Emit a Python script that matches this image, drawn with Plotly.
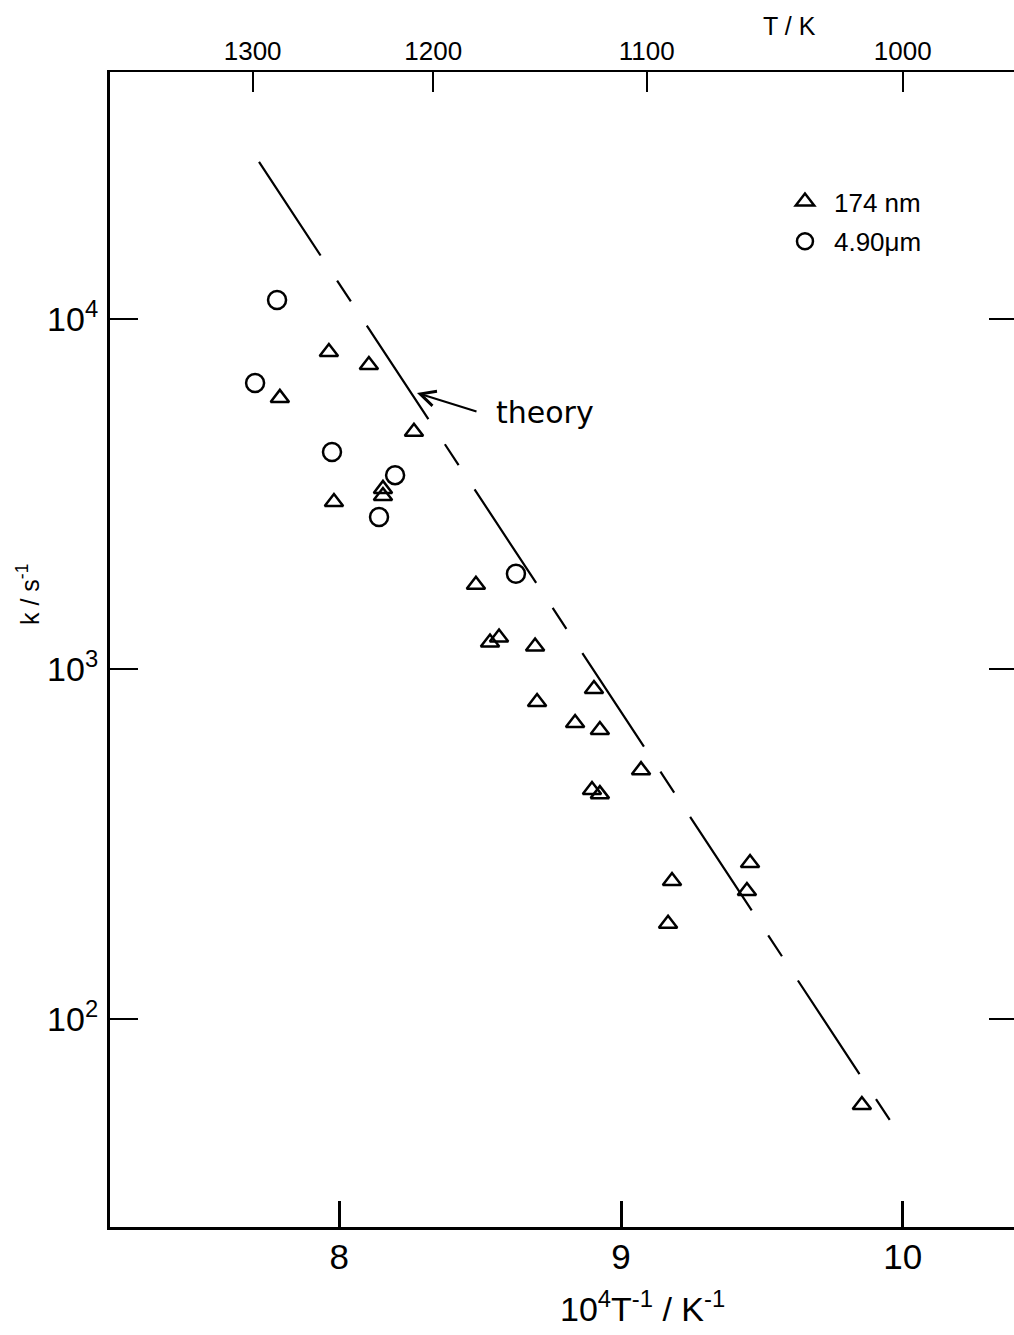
import plotly.graph_objects as go

# Rate constant k (s^-1) against reciprocal temperature 10^4/T (K^-1)
inv_t_174nm = [7.963, 8.105, 7.789, 8.265, 7.981, 8.155, 8.155, 8.485, 8.535,
               8.567, 8.695, 8.904, 8.702, 8.837, 8.925, 9.071, 8.897, 8.925,
               9.458, 9.181, 9.447, 9.167, 9.855]
k_174nm = [8050, 7390, 5950, 4760, 3000, 3270, 3120, 1740, 1190,
           1230, 1160, 877, 805, 701, 669, 514, 451, 439,
           279, 248, 232, 187, 56.8]

inv_t_490um = [7.779, 7.701, 7.974, 8.198, 8.141, 8.627]
k_490um = [11330, 6560, 4170, 3580, 2720, 1870]

# Theoretical Arrhenius line (end points)
inv_t_theory = [7.715, 9.9585]
k_theory = [28100, 50.8]

# Axis ticks
x_ticks = [8, 9, 10]
temps_top = [1300, 1200, 1100, 1000]
k_ticks = [1e2, 1e3, 1e4]
k_tick_text = ["10<sup>2</sup>", "10<sup>3</sup>", "10<sup>4</sup>"]

X_RANGE = [7.186, 10.395]
Y_RANGE = [1.4057, 4.7057]  # log10(k)

SANS = "Liberation Sans, Arial, sans-serif"

fig = go.Figure()

fig.add_trace(go.Scatter(
    x=inv_t_theory, y=k_theory, mode="lines", showlegend=False,
    line=dict(color="black", width=2.2, dash="112px,30px,25px,29px"),
))
fig.add_trace(go.Scatter(
    x=inv_t_174nm, y=k_174nm, mode="markers", name="174 nm",
    legendgroup="a",
    marker=dict(symbol="triangle-up-open", size=16, color="black",
                line=dict(color="black", width=2.5)),
))
fig.add_trace(go.Scatter(
    x=inv_t_490um, y=k_490um, mode="markers", name="4.90μm",
    legendgroup="b",
    marker=dict(symbol="circle-open", size=18, color="black",
                line=dict(color="black", width=2.5)),
))

# invisible carriers so the temperature axis (top) and the mirrored
# decade ticks (right) are rendered
fig.add_trace(go.Scatter(
    x=inv_t_theory, y=k_theory, xaxis="x2", yaxis="y", mode="lines",
    opacity=0, hoverinfo="skip", showlegend=False,
))
fig.add_trace(go.Scatter(
    x=inv_t_theory, y=k_theory, xaxis="x", yaxis="y2", mode="lines",
    opacity=0, hoverinfo="skip", showlegend=False,
))

fig.update_layout(
    width=1014, height=1335,
    margin=dict(l=110, r=0, t=72, b=108),
    paper_bgcolor="white", plot_bgcolor="white",
    font=dict(family=SANS, color="black"),
    showlegend=True,
    legend=dict(x=0.7367, y=0.9082, xanchor="left", yanchor="top",
                font=dict(family=SANS, size=26, color="black"),
                itemwidth=48, tracegroupgap=3, bgcolor="rgba(0,0,0,0)",
                borderwidth=0),
    xaxis=dict(range=X_RANGE, showgrid=False, zeroline=False,
               showline=True, linecolor="black", linewidth=2.5,
               ticks="inside", ticklen=26, tickwidth=2.5, tickcolor="black",
               tickvals=x_ticks, ticktext=[str(v) for v in x_ticks],
               tickfont=dict(size=35), ticklabelstandoff=-3),
    yaxis=dict(type="log", range=Y_RANGE, showgrid=False, zeroline=False,
               showline=True, linecolor="black", linewidth=3,
               ticks="inside", ticklen=28, tickwidth=2, tickcolor="black",
               tickvals=k_ticks, ticktext=k_tick_text,
               tickfont=dict(size=34), ticklabelstandoff=2),
    xaxis2=dict(overlaying="x", side="top", anchor="y", range=X_RANGE,
                showgrid=False, zeroline=False,
                showline=True, linecolor="black", linewidth=2,
                ticks="inside", ticklen=20, tickwidth=2, tickcolor="black",
                tickvals=[1e4 / t for t in temps_top],
                ticktext=[str(t) for t in temps_top],
                tickfont=dict(size=26), ticklabelstandoff=0),
    yaxis2=dict(overlaying="y", side="right", anchor="x", type="log",
                range=Y_RANGE, showgrid=False, zeroline=False,
                showline=False, ticks="inside", ticklen=25, tickwidth=2,
                tickcolor="black", tickvals=k_ticks, showticklabels=False),
)

annotations = [
    # axis titles
    dict(text="10<sup>4</sup>T<sup>-1</sup> / K<sup>-1</sup>",
         xref="paper", yref="paper", x=0.5885, y=-0.0684,
         xanchor="center", yanchor="middle", showarrow=False,
         font=dict(family=SANS, size=34)),
    dict(text="k / s<sup>-1</sup>", textangle=-90,
         xref="paper", yref="paper", x=-0.0907, y=0.5472,
         xanchor="center", yanchor="middle", showarrow=False,
         font=dict(family=SANS, size=25)),
    dict(text="T / K", xref="paper", yref="paper", x=0.7522, y=1.0398,
         xanchor="center", yanchor="middle", showarrow=False,
         font=dict(family=SANS, size=25)),
    # theory label and arrow
    dict(text="theory", xref="paper", yref="paper", x=0.4812, y=0.7048,
         xanchor="center", yanchor="middle", showarrow=False,
         font=dict(family="DejaVu Sans", size=30)),
    dict(text="", xref="paper", yref="paper", x=0.3396, y=0.7221,
         showarrow=True, ax=61, ay=19, arrowhead=5, arrowsize=1.5,
         arrowwidth=2, arrowcolor="black"),
]
fig.update_layout(annotations=annotations)

fig.write_html("out.html")
